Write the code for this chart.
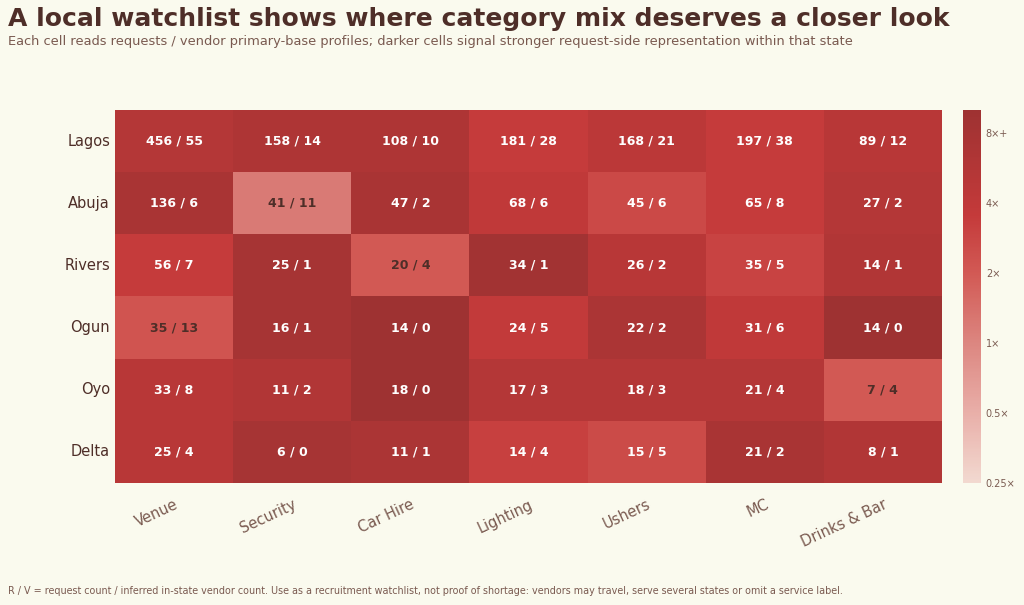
import numpy as np, pandas as pd, seaborn as sns, matplotlib
matplotlib.use("Agg")
import matplotlib.pyplot as plt
from matplotlib.colors import LinearSegmentedColormap

states = ["Lagos", "Abuja", "Rivers", "Ogun", "Oyo", "Delta"]
categories = ["Venue", "Security", "Car Hire", "Lighting", "Ushers", "MC", "Drinks & Bar"]
requests = [[456,158,108,181,168,197,89],
            [136,41,47,68,45,65,27],
            [56,25,20,34,26,35,14],
            [35,16,14,24,22,31,14],
            [33,11,18,17,18,21,7],
            [25,6,11,14,15,21,8]]
vendors = [[55,14,10,28,21,38,12],
           [6,11,2,6,6,8,2],
           [7,1,4,1,2,5,1],
           [13,1,0,5,2,6,0],
           [8,2,0,3,3,4,4],
           [4,0,1,4,5,2,1]]
# representation index read from cell shading
index = [[5.5,6.5,6.5,3.5,4.5,3.5,5.0],
         [7.5,1.2,7.5,4.0,2.7,3.5,5.5],
         [3.5,8.0,2.0,9.0,5.0,3.0,6.0],
         [2.2,8.0,10.0,3.8,7.0,4.0,10.0],
         [5.0,6.0,10.0,5.5,5.5,5.5,2.0],
         [5.0,8.0,7.0,3.2,2.6,7.5,6.0]]
cbar_ticks = [0.25, 0.5, 1, 2, 4, 8]
cbar_labels = ["0.25×", "0.5×", "1×", "2×", "4×", "8×+"]

bg = "#fafaee"
dark = "#4e2e28"
mid = "#7a5a50"
vals = np.log2(np.clip(np.array(index), 0.25, 10))
df = pd.DataFrame(vals, index=states, columns=categories)
annot = np.array([[f"{r} / {v}" for r, v in zip(rr, vv)] for rr, vv in zip(requests, vendors)])

cmap = LinearSegmentedColormap.from_list("c", [(0, "#f2d9d0"), (0.2, "#e8aca6"), (0.375, "#dc8680"),
                                              (0.56, "#d25a55"), (0.72, "#c43a3a"), (1, "#9e3232")])
vmin, vmax = -2, 3.33

fig = plt.figure(figsize=(10.24, 6.05), dpi=100, facecolor=bg)
ax = fig.add_axes([115/1024, 1-483/605, 827/1024, 373/605])
cax = fig.add_axes([963/1024, 1-483/605, 18/1024, 373/605])
ax.set_facecolor(bg)
sns.heatmap(df, ax=ax, cbar_ax=cax, cmap=cmap, vmin=vmin, vmax=vmax, annot=False, linewidths=0)
for i in range(len(states)):
    for j in range(len(categories)):
        v = (vals[i, j] - vmin) / (vmax - vmin)
        col = "#4e2e28" if v < 0.6 else "white"
        ax.text(j + 0.5, i + 0.5, annot[i, j], ha="center", va="center", fontsize=9,
                fontweight="bold", color=col)
ax.tick_params(length=0)
ax.set_xlabel(""); ax.set_ylabel("")
ax.set_yticklabels(states, rotation=0, fontsize=10.5, color=dark)
ax.set_xticklabels(categories, rotation=25, ha="right", rotation_mode="anchor", fontsize=10.5, color=mid)
ax.tick_params(axis="x", pad=10)
cax.set_yticks(np.log2(cbar_ticks))
cax.set_yticklabels(cbar_labels, fontsize=7, color=mid)
cax.tick_params(length=0)
for s in cax.spines.values():
    s.set_visible(False)

fig.text(8/1024, 1-19/605, "A local watchlist shows where category mix deserves a closer look",
         fontsize=18, fontweight="bold", color=dark, va="center")
fig.text(8/1024, 1-41/605, "Each cell reads requests / vendor primary-base profiles; darker cells signal stronger request-side representation within that state",
         fontsize=9.4, color=mid, va="center")
fig.text(8/1024, 1-591/605, "R / V = request count / inferred in-state vendor count. Use as a recruitment watchlist, not proof of shortage: vendors may travel, serve several states or omit a service label.",
         fontsize=6.9, color=mid, va="center")
fig.savefig("out.png", dpi=100, facecolor=bg)
